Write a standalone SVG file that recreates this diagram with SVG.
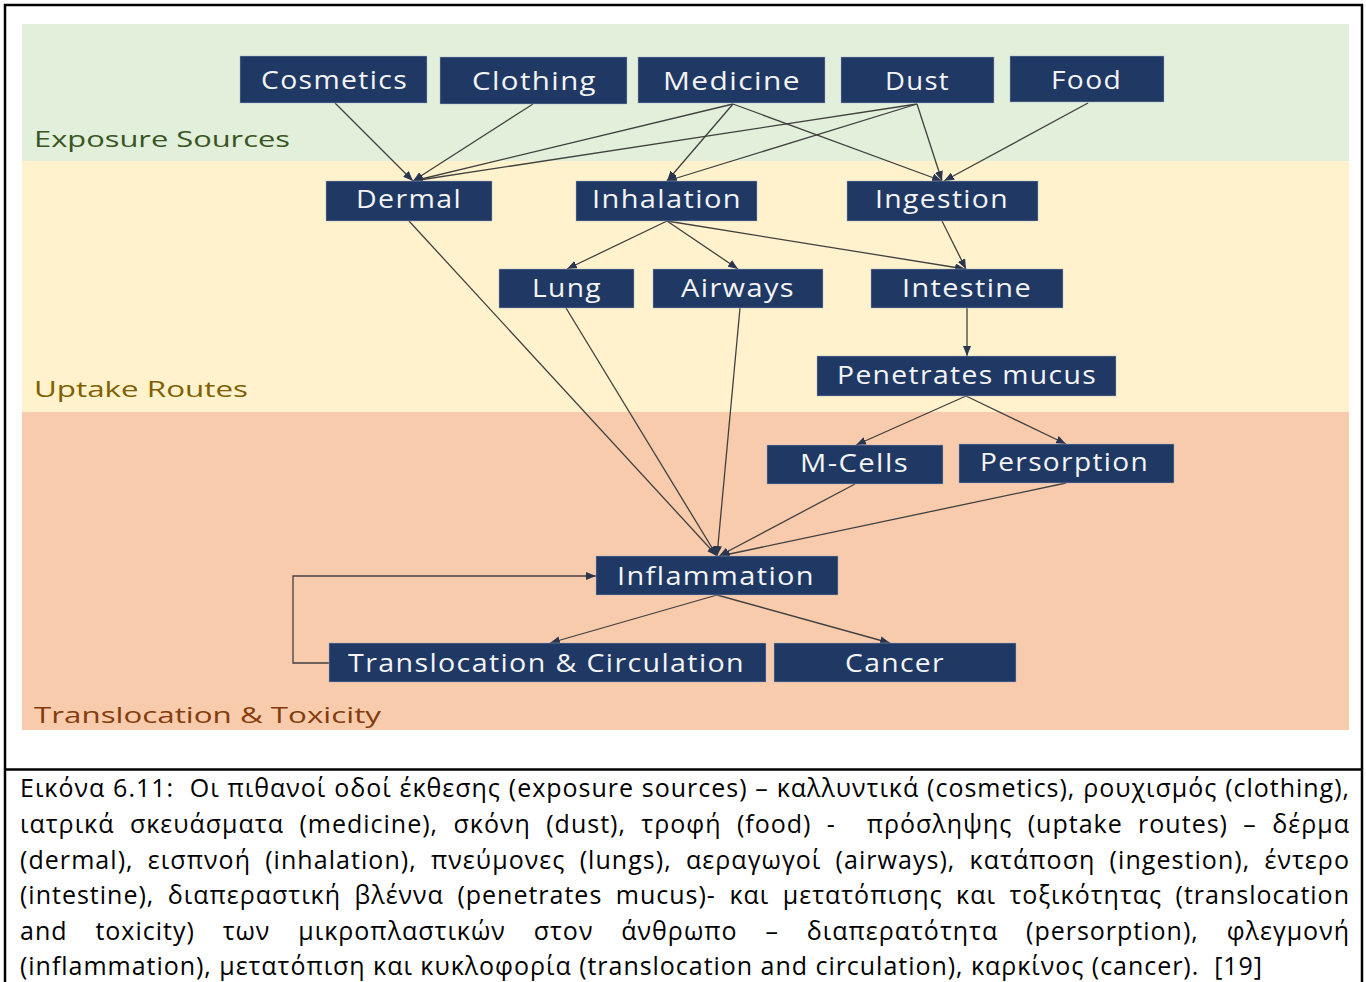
<svg xmlns="http://www.w3.org/2000/svg" width="1366" height="982" viewBox="0 0 1366 982">
  <style>
    .band-label { font-family: "Open Sans", "Noto Sans", sans-serif; font-size: 22px; }
    .node rect { fill: #1f3864; stroke: #aab4c8; stroke-width: 0.8; stroke-opacity: 0.6; }
    .node text { font-family: "Open Sans", "Noto Sans", sans-serif; font-size: 25px; letter-spacing: 1.2px; fill: #f4f4f4; }
    .edge { stroke: #404040; stroke-width: 1.3; fill: none; marker-end: url(#arrow); }
    .caption { font-family: "Open Sans", "Noto Sans", sans-serif; font-size: 25px; letter-spacing: 1px; fill: #000; white-space: pre; }
  </style>
  <defs>
    <marker id="arrow" markerUnits="userSpaceOnUse" markerWidth="10" markerHeight="8" refX="10" refY="4" orient="auto">
      <path d="M0,0 L10,4 L0,8 z" fill="#2a3550"/>
    </marker>
  </defs>

  <rect x="0" y="0" width="1366" height="982" fill="#ffffff"/>

  <!-- frame and caption divider -->
  <g id="frame" fill="none" stroke="#000" stroke-width="2.5">
    <path d="M5,990 L5,5 L1362,5 L1362,990"/>
    <line x1="5" y1="769.5" x2="1362" y2="769.5"/>
  </g>

  <!-- stage bands -->
  <g id="bands">
    <rect x="22" y="24" width="1327" height="137" fill="#e2efda"/>
    <rect x="22" y="161" width="1327" height="251" fill="#fff2cc"/>
    <rect x="22" y="412" width="1327" height="318" fill="#f8cbad"/>
    <text class="band-label" x="34" y="147" textLength="256" lengthAdjust="spacingAndGlyphs" fill="#375623">Exposure Sources</text>
    <text class="band-label" x="34" y="397" textLength="214" lengthAdjust="spacingAndGlyphs" fill="#7f6000">Uptake Routes</text>
    <text class="band-label" x="34" y="723" textLength="347" lengthAdjust="spacingAndGlyphs" fill="#843c0c">Translocation &amp; Toxicity</text>
  </g>

  <!-- connectors -->
  <g id="connectors">
    <line class="edge" x1="335" y1="103" x2="413" y2="181"/>
    <line class="edge" x1="533" y1="104" x2="413" y2="181"/>
    <line class="edge" x1="733" y1="104" x2="413" y2="181"/>
    <line class="edge" x1="917" y1="104" x2="413" y2="181"/>
    <line class="edge" x1="733" y1="104" x2="667" y2="181"/>
    <line class="edge" x1="917" y1="104" x2="667" y2="181"/>
    <line class="edge" x1="733" y1="104" x2="942" y2="181"/>
    <line class="edge" x1="917" y1="104" x2="942" y2="181"/>
    <line class="edge" x1="1088" y1="103" x2="944" y2="181"/>
    <line class="edge" x1="409" y1="221" x2="717" y2="556"/>
    <line class="edge" x1="667" y1="221" x2="567" y2="269"/>
    <line class="edge" x1="667" y1="221" x2="738" y2="269"/>
    <line class="edge" x1="667" y1="221" x2="965" y2="269"/>
    <line class="edge" x1="942" y1="221" x2="966" y2="269"/>
    <line class="edge" x1="967" y1="308" x2="967" y2="356"/>
    <line class="edge" x1="966" y1="396" x2="856" y2="445"/>
    <line class="edge" x1="966" y1="396" x2="1066" y2="444"/>
    <line class="edge" x1="566" y1="308" x2="717" y2="556"/>
    <line class="edge" x1="740" y1="308" x2="717" y2="556"/>
    <line class="edge" x1="855" y1="484" x2="719" y2="556"/>
    <line class="edge" x1="1066" y1="483" x2="720" y2="556"/>
    <line class="edge" x1="717" y1="595" x2="550" y2="643"/>
    <line class="edge" x1="717" y1="595" x2="890" y2="643"/>
    <polyline class="edge" points="329,663 293,663 293,576 596,576"/>
  </g>

  <!-- exposure sources -->
  <g id="cosmetics" class="node"><rect x="240" y="56" width="187" height="47"/><text x="261" y="89" textLength="147" lengthAdjust="spacingAndGlyphs">Cosmetics</text></g>
  <g id="clothing" class="node"><rect x="440" y="57" width="187" height="47"/><text x="472" y="90" textLength="125" lengthAdjust="spacingAndGlyphs">Clothing</text></g>
  <g id="medicine" class="node"><rect x="638" y="57" width="187" height="46"/><text x="663" y="90" textLength="138" lengthAdjust="spacingAndGlyphs">Medicine</text></g>
  <g id="dust" class="node"><rect x="841" y="57" width="153" height="46"/><text x="885" y="90" textLength="65" lengthAdjust="spacingAndGlyphs">Dust</text></g>
  <g id="food" class="node"><rect x="1010" y="56" width="154" height="46"/><text x="1051" y="89" textLength="71" lengthAdjust="spacingAndGlyphs">Food</text></g>

  <!-- uptake routes -->
  <g id="dermal" class="node"><rect x="326" y="181" width="166" height="40"/><text x="356" y="208" textLength="106" lengthAdjust="spacingAndGlyphs">Dermal</text></g>
  <g id="inhalation" class="node"><rect x="576" y="181" width="181" height="40"/><text x="592" y="208" textLength="150" lengthAdjust="spacingAndGlyphs">Inhalation</text></g>
  <g id="ingestion" class="node"><rect x="847" y="181" width="191" height="40"/><text x="875" y="208" textLength="134" lengthAdjust="spacingAndGlyphs">Ingestion</text></g>
  <g id="lung" class="node"><rect x="499" y="269" width="135" height="39"/><text x="532" y="297" textLength="70" lengthAdjust="spacingAndGlyphs">Lung</text></g>
  <g id="airways" class="node"><rect x="653" y="269" width="170" height="39"/><text x="681" y="297" textLength="114" lengthAdjust="spacingAndGlyphs">Airways</text></g>
  <g id="intestine" class="node"><rect x="871" y="269" width="192" height="39"/><text x="902" y="297" textLength="130" lengthAdjust="spacingAndGlyphs">Intestine</text></g>
  <g id="penetrates-mucus" class="node"><rect x="817" y="356" width="299" height="40"/><text x="837" y="384" textLength="260" lengthAdjust="spacingAndGlyphs">Penetrates mucus</text></g>

  <!-- translocation & toxicity -->
  <g id="m-cells" class="node"><rect x="767" y="445" width="176" height="39"/><text x="800" y="472" textLength="109" lengthAdjust="spacingAndGlyphs">M-Cells</text></g>
  <g id="persorption" class="node"><rect x="959" y="444" width="215" height="39"/><text x="980" y="471" textLength="169" lengthAdjust="spacingAndGlyphs">Persorption</text></g>
  <g id="inflammation" class="node"><rect x="596" y="556" width="242" height="39"/><text x="617" y="585" textLength="198" lengthAdjust="spacingAndGlyphs">Inflammation</text></g>
  <g id="translocation-circulation" class="node"><rect x="329" y="643" width="437" height="39"/><text x="348" y="672" textLength="397" lengthAdjust="spacingAndGlyphs">Translocation &amp; Circulation</text></g>
  <g id="cancer" class="node"><rect x="774" y="643" width="242" height="39"/><text x="845" y="672" textLength="100" lengthAdjust="spacingAndGlyphs">Cancer</text></g>

  <!-- caption, justified line by line -->
  <g id="caption">
    <text class="caption" x="20" y="797" word-spacing="0.4" textLength="1330" lengthAdjust="spacing">Εικόνα 6.11:  Οι πιθανοί οδοί έκθεσης (exposure sources) – καλλυντικά (cosmetics), ρουχισμός (clothing),</text>
    <text class="caption" x="20" y="833" word-spacing="7.9" textLength="1330" lengthAdjust="spacing">ιατρικά σκευάσματα (medicine), σκόνη (dust), τροφή (food) -  πρόσληψης (uptake routes) – δέρμα</text>
    <text class="caption" x="20" y="869" word-spacing="6.6" textLength="1330" lengthAdjust="spacing">(dermal), εισπνοή (inhalation), πνεύμονες (lungs), αεραγωγοί (airways), κατάποση (ingestion), έντερο</text>
    <text class="caption" x="20" y="904" word-spacing="6" textLength="1330" lengthAdjust="spacing">(intestine), διαπεραστική βλέννα (penetrates mucus)- και μετατόπισης και τοξικότητας (translocation</text>
    <text class="caption" x="20" y="940" word-spacing="20.4" textLength="1330" lengthAdjust="spacing">and toxicity) των μικροπλαστικών στον άνθρωπο – διαπερατότητα (persorption), φλεγμονή</text>
    <text class="caption" x="20" y="975" textLength="1243" lengthAdjust="spacing">(inflammation), μετατόπιση και κυκλοφορία (translocation and circulation), καρκίνος (cancer).  [19]</text>
  </g>
</svg>
